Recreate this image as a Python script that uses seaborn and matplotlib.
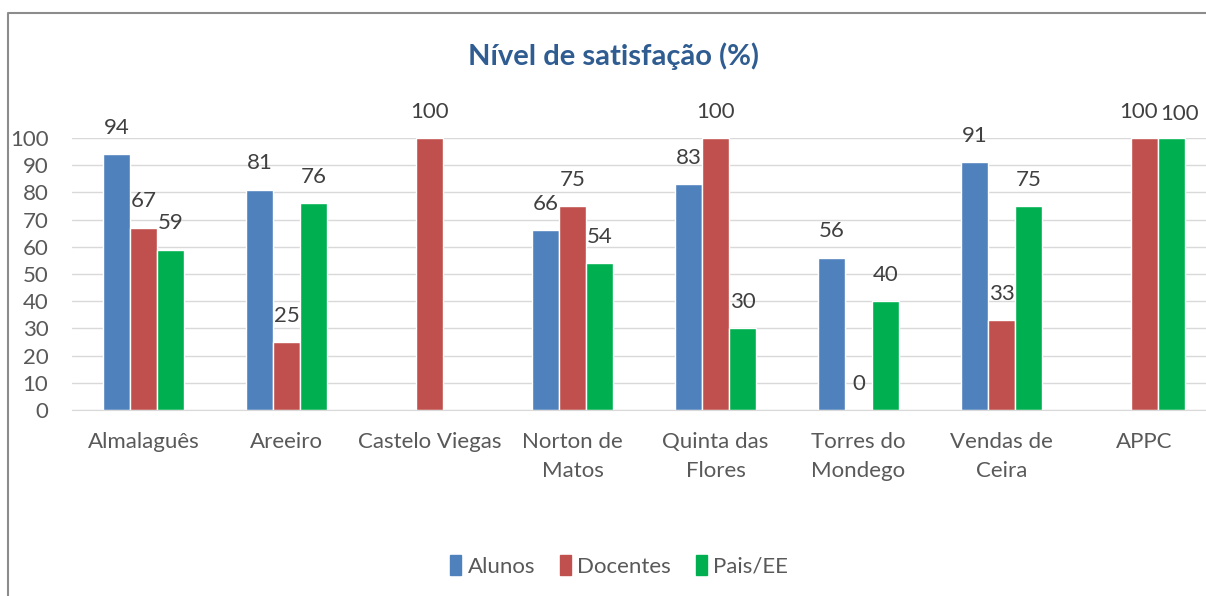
import seaborn as sns
import pandas as pd
import numpy as np
import matplotlib.pyplot as plt
from matplotlib.patches import Rectangle
from matplotlib.lines import Line2D

# data
escolas = ['Almalaguês', 'Areeiro', 'Castelo Viegas', 'Norton de\nMatos',
           'Quinta das\nFlores', 'Torres do\nMondego', 'Vendas de\nCeira', 'APPC']
alunos = [94, 81, np.nan, 66, 83, 56, 91, np.nan]
docentes = [67, 25, 100, 75, 100, 0, 33, 100]
pais = [59, 76, np.nan, 54, 30, 40, 75, 100]
series = ['Alunos', 'Docentes', 'Pais/EE']
cores = ['#4F81BD', '#C0504D', '#00B050']

rows = []
for nome, vals in zip(series, [alunos, docentes, pais]):
    for esc, v in zip(escolas, vals):
        rows.append({'escola': esc, 'grupo': nome, 'valor': v})
df = pd.DataFrame(rows)

sns.set_style('white')
plt.rcParams['font.family'] = ['Lato', 'DejaVu Sans']

fig = plt.figure(figsize=(12.06, 5.96), dpi=100)
ax = fig.add_axes([72/1206, 1-410/596, 1144/1206, 272/596])

sns.barplot(data=df, x='escola', y='valor', hue='grupo', order=escolas,
            hue_order=series, palette=cores, width=0.57, gap=0,
            saturation=1, ax=ax, legend=True, errorbar=None)

ax.set_ylim(0, 100)
ax.set_yticks(range(0, 101, 10))
ax.set_xlim(-0.5, 7.5)
ax.set_xlabel('')
ax.set_ylabel('')
ax.grid(axis='y', color='#D9D9D9', lw=1)
ax.set_axisbelow(True)
for s in ['top', 'left', 'right']:
    ax.spines[s].set_visible(False)
ax.spines['bottom'].set_color('#D9D9D9')
ax.tick_params(axis='y', length=0, pad=17, labelsize=16, labelcolor='#595959')
ax.tick_params(axis='x', length=0, pad=16, labelsize=16, labelcolor='#595959')
for t in ax.get_xticklabels():
    t.set_linespacing(1.55)

# data labels, nudged apart when two neighbours sit at the same height
labels = {}
for k, cont in enumerate(ax.containers):
    for p in cont.patches:
        h = p.get_height()
        if np.isnan(h):
            continue
        cx = p.get_x() + p.get_width() / 2
        labels.setdefault(round(cx - (k - 1) * p.get_width()), []).append((k, cx, h))
for grp in labels.values():
    grp.sort()
    for i, (k, cx, h) in enumerate(grp):
        dx, dy = 0, 19
        if i + 1 < len(grp) and grp[i + 1][0] == k + 1 and abs(grp[i + 1][2] - h) < 8:
            dx = -4
        if i > 0 and grp[i - 1][0] == k - 1 and abs(grp[i - 1][2] - h) < 8:
            dx, dy = 6, 17.5
        ax.annotate(f'{h:.0f}', (cx, h), xytext=(dx, dy), textcoords='offset points',
                    ha='center', va='center', fontsize=16, color='#404040',
                    annotation_clip=False)

ax.get_legend().remove()
handles = [Rectangle((0, 0), 1, 1, color=c) for c in cores]
fig.legend(handles, series, loc='center', bbox_to_anchor=(619/1206, 1-566/596),
           ncol=3, frameon=False, fontsize=16, handlelength=0.5,
           handleheight=1.0, handletextpad=0.3, columnspacing=1.1,
           labelcolor='#595959')

fig.text(613/1206, 1-56/596, 'Nível de satisfação (%)', ha='center', va='center',
         fontsize=21, fontweight='bold', color='#2F5C91')

# chart frame: only the left and top edges are in view
top = 1 - 13/596
left = 8/1206
fig.lines.append(Line2D([left, left, 1.0], [0.0, top, top], transform=fig.transFigure,
                        color='#8C8C8C', lw=1.5))

fig.savefig('out.png', dpi=100)
